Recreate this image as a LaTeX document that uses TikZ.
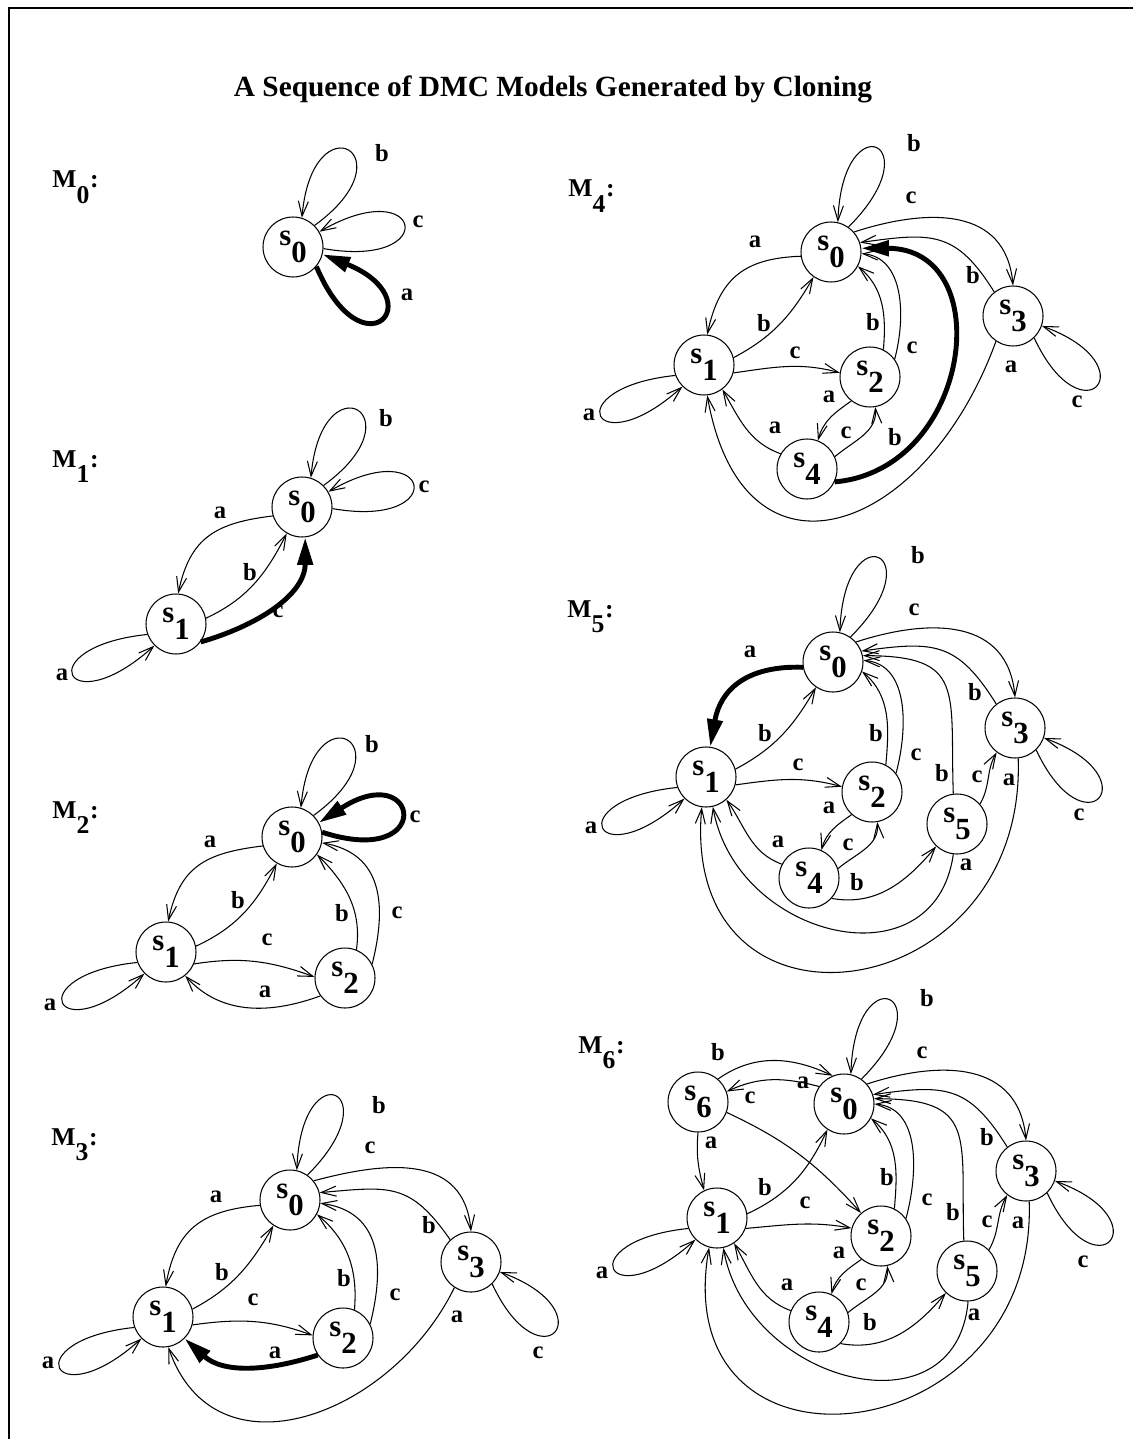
\documentclass[tikz,border=0pt]{standalone}
\usepackage{fontspec}
\setmainfont{Liberation Serif}
\usetikzlibrary{arrows.meta}
\newcommand{\stname}[1]{s\raisebox{-0.55em}{#1}}
\newcommand{\mname}[1]{M\raisebox{-0.62em}{#1}\kern0.03em:}

\begin{document}
\begin{tikzpicture}[
    x=0.02cm, y=0.02cm,
    stnode/.style={circle, draw, line width=0.6pt, minimum size=1.2cm, inner sep=0pt, font=\fontsize{17.5}{19}\selectfont\bfseries},
    mlabel/.style={anchor=base west, inner sep=0pt, font=\fontsize{14.6}{16}\selectfont\bfseries},
    lbl/.style={inner sep=0pt, font=\fontsize{14}{16}\selectfont\bfseries},
    tr/.style={line width=0.6pt, -{Straight Barb[length=0.3cm,width=0.2cm]}},
    hot/.style={line width=2.8pt, -{Triangle[length=0.55cm,width=0.3cm]}}
]
\useasboundingbox (0,0) rectangle (1133,-1439);
\draw[line width=1.2pt] (9,-1439) -- (9,-8) -- (1133,-8);
\node[font=\fontsize{16.7}{19}\selectfont\bfseries, anchor=base] (title) at (553,-97) {A Sequence of DMC Models Generated by Cloning};

\node[mlabel] (m0n) at (52,-188) {\mname{0}};
\node[stnode] (m0s0) at (293,-247) {\stname{0}};
\draw[tr] (m0s0.45) to[out=36,in=85,min distance=2.4cm] (m0s0.73);
\draw[tr] (m0s0.-3) to[out=-10,in=30,min distance=2.4cm] (m0s0.30);
\draw[hot] (m0s0.-40) to[out=-67,in=-22,min distance=2.4cm] (m0s0.-14);
\node[lbl] (m0l1) at (382,-153) {b};
\node[lbl] (m0l2) at (418,-222) {c};
\node[lbl] (m0l3) at (407,-295) {a};

\node[mlabel] (m1n) at (52,-467) {\mname{1}};
\node[stnode] (m1s0) at (302,-507) {\stname{0}};
\node[stnode] (m1s1) at (176,-624) {\stname{1}};
\draw[tr] (m1s0.45) to[out=36,in=85,min distance=2.4cm] (m1s0.73);
\draw[tr] (m1s0.-3) to[out=-10,in=30,min distance=2.4cm] (m1s0.30);
\draw[tr] (m1s0.197) to[out=187,in=78,looseness=1.2] (m1s1.86);
\draw[tr] (m1s1.11) to[out=25,in=243] (m1s0.240);
\draw[hot] (m1s1.-36) to[out=16,in=270] (m1s0.-84);
\draw[tr] (m1s1.200) to[out=186,in=222,min distance=2.4cm] (m1s1.225);
\node[lbl] (m1l1) at (386,-418) {b};
\node[lbl] (m1l2) at (424,-487) {c};
\node[lbl] (m1l3) at (220,-513) {a};
\node[lbl] (m1l4) at (250,-572) {b};
\node[lbl] (m1l5) at (278,-612) {c};
\node[lbl] (m1l6) at (62,-675) {a};

\node[mlabel] (m2n) at (52,-818) {\mname{2}};
\node[stnode] (m2s0) at (292,-837) {\stname{0}};
\node[stnode] (m2s1) at (166,-952) {\stname{1}};
\node[stnode] (m2s2) at (345,-978) {\stname{2}};
\draw[tr] (m2s0.45) to[out=36,in=85,min distance=2.4cm] (m2s0.73);
\draw[hot] (m2s0.9) to[out=-18,in=33,min distance=2.4cm] (m2s0.28);
\draw[tr] (m2s0.197) to[out=187,in=78,looseness=1.2] (m2s1.86);
\draw[tr] (m2s1.11) to[out=25,in=243] (m2s0.240);
\draw[tr] (m2s1.-23) to[out=9,in=160] (m2s2.178);
\draw[tr] (m2s2.216) to[out=200,in=-48] (m2s1.-51);
\draw[tr] (m2s2.68) to[out=82,in=-45] (m2s0.-35);
\draw[tr] (m2s2.27) to[out=76,in=-10,looseness=1.2] (m2s0.-11);
\draw[tr] (m2s1.200) to[out=186,in=222,min distance=2.4cm] (m2s1.225);
\node[lbl] (m2l1) at (372,-744) {b};
\node[lbl] (m2l2) at (415,-817) {c};
\node[lbl] (m2l3) at (210,-842) {a};
\node[lbl] (m2l4) at (238,-900) {b};
\node[lbl] (m2l5) at (267,-940) {c};
\node[lbl] (m2l6) at (265,-992) {a};
\node[lbl] (m2l7) at (342,-913) {b};
\node[lbl] (m2l8) at (397,-913) {c};
\node[lbl] (m2l9) at (50,-1005) {a};

\node[mlabel] (m3n) at (51,-1145) {\mname{3}};
\node[stnode] (m3s0) at (290,-1200) {\stname{0}};
\node[stnode] (m3s1) at (163,-1317) {\stname{1}};
\node[stnode] (m3s2) at (343,-1338) {\stname{2}};
\node[stnode] (m3s3) at (471,-1262) {\stname{3}};
\draw[tr] (m3s0.55) to[out=45,in=88,min distance=2.4cm] (m3s0.77);
\draw[tr] (m3s0.39) to[out=15,in=95,looseness=1.2] (m3s3.90);
\draw[tr] (m3s3.133) to[out=125,in=5,looseness=1.3] (m3s0.14);
\draw[tr] (m3s0.190) to[out=185,in=80,looseness=1.2] (m3s1.85);
\draw[tr] (m3s1.15) to[out=28,in=240] (m3s0.237);
\draw[tr] (m3s1.-15) to[out=8,in=160] (m3s2.175);
\draw[hot] (m3s2.214) to[out=198,in=-42] (m3s1.-45);
\draw[tr] (m3s2.68) to[out=85,in=-40] (m3s0.-28);
\draw[tr] (m3s2.27) to[out=76,in=-8,looseness=1.2] (m3s0.-6);
\draw[tr] (m3s3.237) to[out=244,in=-71,looseness=1.25] (m3s1.-80);
\draw[tr] (m3s3.-46) to[out=-65,in=-20,min distance=2.3cm] (m3s3.-19);
\draw[tr] (m3s1.200) to[out=186,in=222,min distance=2.4cm] (m3s1.225);
\node[lbl] (m3l1) at (379,-1105) {b};
\node[lbl] (m3l2) at (370,-1148) {c};
\node[lbl] (m3l3) at (216,-1197) {a};
\node[lbl] (m3l4) at (429,-1225) {b};
\node[lbl] (m3l5) at (222,-1272) {b};
\node[lbl] (m3l6) at (253,-1300) {c};
\node[lbl] (m3l7) at (344,-1278) {b};
\node[lbl] (m3l8) at (395,-1295) {c};
\node[lbl] (m3l9) at (275,-1353) {a};
\node[lbl] (m3l10) at (457,-1317) {a};
\node[lbl] (m3l11) at (538,-1353) {c};
\node[lbl] (m3l12) at (48,-1363) {a};

\node[mlabel] (m4n) at (568,-197) {\mname{4}};
\node[stnode] (m4s0) at (831,-252) {\stname{0}};
\node[stnode] (m4s1) at (704,-365) {\stname{1}};
\node[stnode] (m4s2) at (870,-377) {\stname{2}};
\node[stnode] (m4s3) at (1013,-316) {\stname{3}};
\node[stnode] (m4s4) at (807,-469) {\stname{4}};
\draw[tr] (m4s0.55) to[out=45,in=88,min distance=2.4cm] (m4s0.77);
\draw[tr] (m4s0.41) to[out=18,in=95,looseness=1.2] (m4s3.90);
\draw[tr] (m4s3.128) to[out=122,in=8,looseness=1.3] (m4s0.18);
\draw[tr] (m4s0.188) to[out=182,in=78,looseness=1.2] (m4s1.84);
\draw[tr] (m4s1.14) to[out=28,in=240] (m4s0.235);
\draw[tr] (m4s1.-15) to[out=8,in=165] (m4s2.172);
\draw[tr] (m4s2.64) to[out=85,in=-40] (m4s0.-28);
\draw[tr] (m4s2.36) to[out=75,in=-5] (m4s0.-3);
\draw[hot] (m4s4.-25) to[out=5,in=0,looseness=1.5] (m4s0.7);
\draw[tr] (m4s2.232) to[out=215,in=75] (m4s4.69);
\draw[tr] (m4s4.24) to[out=40,in=-85] (m4s2.-80);
\draw[tr] (m4s4.150) to[out=160,in=-60] (m4s1.-53);
\draw[tr] (m4s3.236) to[out=250,in=-80,looseness=1.8] (m4s1.-84);
\draw[tr] (m4s3.-46) to[out=-65,in=-20,min distance=2.3cm] (m4s3.-19);
\draw[tr] (m4s1.200) to[out=186,in=222,min distance=2.4cm] (m4s1.225);
\node[lbl] (m4l1) at (914,-143) {b};
\node[lbl] (m4l2) at (911,-198) {c};
\node[lbl] (m4l3) at (755,-242) {a};
\node[lbl] (m4l4) at (973,-275) {b};
\node[lbl] (m4l5) at (764,-323) {b};
\node[lbl] (m4l6) at (795,-353) {c};
\node[lbl] (m4l7) at (873,-322) {b};
\node[lbl] (m4l8) at (912,-348) {c};
\node[lbl] (m4l9) at (1011,-367) {a};
\node[lbl] (m4l10) at (1077,-402) {c};
\node[lbl] (m4l11) at (589,-415) {a};
\node[lbl] (m4l12) at (829,-397) {a};
\node[lbl] (m4l13) at (775,-428) {a};
\node[lbl] (m4l14) at (846,-433) {c};
\node[lbl] (m4l15) at (895,-437) {b};

\node[mlabel] (m5n) at (567,-617) {\mname{5}};
\node[stnode] (m5s0) at (833,-662) {\stname{0}};
\node[stnode] (m5s1) at (706,-777) {\stname{1}};
\node[stnode] (m5s2) at (872,-792) {\stname{2}};
\node[stnode] (m5s3) at (1015,-728) {\stname{3}};
\node[stnode] (m5s4) at (809,-878) {\stname{4}};
\node[stnode] (m5s5) at (957,-824) {\stname{5}};
\draw[tr] (m5s0.55) to[out=45,in=88,min distance=2.4cm] (m5s0.77);
\draw[tr] (m5s0.41) to[out=18,in=95,looseness=1.2] (m5s3.90);
\draw[tr] (m5s3.128) to[out=122,in=8,looseness=1.3] (m5s0.21);
\draw[hot] (m5s0.190) to[out=178,in=80,looseness=1.2] (m5s1.82);
\draw[tr] (m5s1.15) to[out=28,in=240] (m5s0.236);
\draw[tr] (m5s1.-15) to[out=8,in=165] (m5s2.170);
\draw[tr] (m5s2.63) to[out=85,in=-40] (m5s0.-18);
\draw[tr] (m5s2.38) to[out=75,in=-5] (m5s0.3);
\draw[tr] (m5s5.97) to[out=92,in=0,looseness=1.6] (m5s0.12);
\draw[tr] (m5s5.41) to[out=60,in=240] (m5s3.233);
\draw[tr] (m5s3.-84) to[out=-88,in=-95,looseness=2] (m5s1.-98);
\draw[tr] (m5s5.263) to[out=262,in=-80,looseness=1.4] (m5s1.-77);
\draw[tr] (m5s4.-42) to[out=-10,in=230] (m5s5.227);
\draw[tr] (m5s2.228) to[out=215,in=75] (m5s4.66);
\draw[tr] (m5s4.18) to[out=40,in=-85] (m5s2.-80);
\draw[tr] (m5s4.153) to[out=160,in=-55] (m5s1.-48);
\draw[tr] (m5s3.-46) to[out=-65,in=-20,min distance=2.3cm] (m5s3.-19);
\draw[tr] (m5s1.200) to[out=186,in=222,min distance=2.4cm] (m5s1.225);
\node[lbl] (m5l1) at (918,-555) {b};
\node[lbl] (m5l2) at (914,-610) {c};
\node[lbl] (m5l3) at (750,-652) {a};
\node[lbl] (m5l4) at (975,-692) {b};
\node[lbl] (m5l5) at (765,-733) {b};
\node[lbl] (m5l6) at (798,-765) {c};
\node[lbl] (m5l7) at (876,-733) {b};
\node[lbl] (m5l8) at (916,-755) {c};
\node[lbl] (m5l9) at (942,-773) {b};
\node[lbl] (m5l10) at (977,-777) {c};
\node[lbl] (m5l11) at (1009,-780) {a};
\node[lbl] (m5l12) at (1079,-815) {c};
\node[lbl] (m5l13) at (591,-828) {a};
\node[lbl] (m5l14) at (829,-808) {a};
\node[lbl] (m5l15) at (778,-842) {a};
\node[lbl] (m5l16) at (848,-845) {c};
\node[lbl] (m5l17) at (857,-882) {b};
\node[lbl] (m5l18) at (966,-865) {a};

\node[mlabel] (m6n) at (578,-1053) {\mname{6}};
\node[stnode] (m6s0) at (844,-1104) {\stname{0}};
\node[stnode] (m6s1) at (717,-1218) {\stname{1}};
\node[stnode] (m6s2) at (881,-1236) {\stname{2}};
\node[stnode] (m6s3) at (1026,-1171) {\stname{3}};
\node[stnode] (m6s4) at (819,-1322) {\stname{4}};
\node[stnode] (m6s5) at (967,-1271) {\stname{5}};
\node[stnode] (m6s6) at (698,-1102) {\stname{6}};
\draw[tr] (m6s0.55) to[out=45,in=88,min distance=2.4cm] (m6s0.77);
\draw[tr] (m6s0.41) to[out=18,in=95,looseness=1.2] (m6s3.90);
\draw[tr] (m6s3.128) to[out=122,in=8,looseness=1.3] (m6s0.18);
\draw[tr] (m6s0.145) to[out=165,in=25] (m6s6.20);
\draw[tr] (m6s6.49) to[out=35,in=155] (m6s0.112);
\draw[tr] (m6s6.-20) to[out=-25,in=132] (m6s2.131);
\draw[tr] (m6s6.-90) to[out=-95,in=105] (m6s1.115);
\draw[tr] (m6s1.8) to[out=25,in=245] (m6s0.237);
\draw[tr] (m6s1.-20) to[out=5,in=170] (m6s2.165);
\draw[tr] (m6s2.64) to[out=85,in=-40] (m6s0.-28);
\draw[tr] (m6s2.35) to[out=75,in=-5] (m6s0.0);
\draw[tr] (m6s5.96) to[out=92,in=0,looseness=1.6] (m6s0.10);
\draw[tr] (m6s5.44) to[out=60,in=240] (m6s3.232);
\draw[tr] (m6s3.-84) to[out=-88,in=-100,looseness=2] (m6s1.-105);
\draw[tr] (m6s5.-88) to[out=-95,in=-80,looseness=1.4] (m6s1.-78);
\draw[tr] (m6s4.-45) to[out=-10,in=230] (m6s5.226);
\draw[tr] (m6s2.230) to[out=215,in=75] (m6s4.66);
\draw[tr] (m6s4.18) to[out=40,in=-85] (m6s2.-78);
\draw[tr] (m6s4.158) to[out=160,in=-60] (m6s1.-56);
\draw[tr] (m6s3.-46) to[out=-65,in=-20,min distance=2.3cm] (m6s3.-19);
\draw[tr] (m6s1.200) to[out=186,in=222,min distance=2.4cm] (m6s1.225);
\node[lbl] (m6l1) at (927,-998) {b};
\node[lbl] (m6l2) at (922,-1053) {c};
\node[lbl] (m6l3) at (718,-1052) {b};
\node[lbl] (m6l4) at (803,-1083) {a};
\node[lbl] (m6l5) at (750,-1098) {c};
\node[lbl] (m6l6) at (987,-1137) {b};
\node[lbl] (m6l7) at (711,-1143) {a};
\node[lbl] (m6l8) at (765,-1187) {b};
\node[lbl] (m6l9) at (805,-1203) {c};
\node[lbl] (m6l10) at (887,-1177) {b};
\node[lbl] (m6l11) at (927,-1200) {c};
\node[lbl] (m6l12) at (953,-1212) {b};
\node[lbl] (m6l13) at (987,-1222) {c};
\node[lbl] (m6l14) at (1018,-1223) {a};
\node[lbl] (m6l15) at (1083,-1262) {c};
\node[lbl] (m6l16) at (602,-1273) {a};
\node[lbl] (m6l17) at (839,-1253) {a};
\node[lbl] (m6l18) at (861,-1285) {c};
\node[lbl] (m6l19) at (787,-1285) {a};
\node[lbl] (m6l20) at (870,-1322) {b};
\node[lbl] (m6l21) at (974,-1315) {a};
\end{tikzpicture}
\end{document}
